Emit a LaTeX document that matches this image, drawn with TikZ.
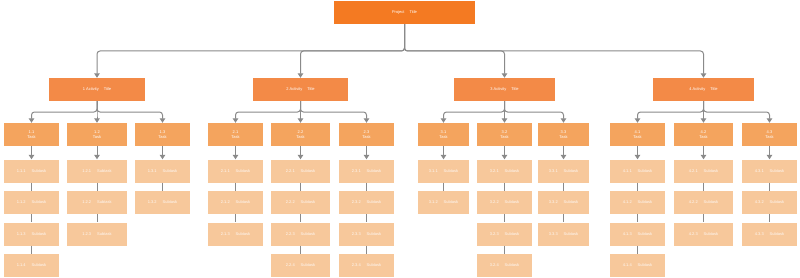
\documentclass[tikz,border=0pt]{standalone}
\usepackage{fontspec}
\setmainfont{Liberation Sans}
\usetikzlibrary{arrows.meta}
\definecolor{topc}{HTML}{F47A22}
\definecolor{actc}{HTML}{F38A47}
\definecolor{taskc}{HTML}{F4A45E}
\definecolor{subc}{HTML}{F7C89B}
\definecolor{linec}{HTML}{8A8A8A}
\begin{document}
\begin{tikzpicture}[x=1pt,y=-1pt,
  basebox/.style={inner sep=0pt, text=white, align=center,
    font=\fontsize{4}{4.6}\selectfont, minimum height=23pt},
  topbox/.style={basebox, fill=topc, minimum width=141pt},
  actbox/.style={basebox, fill=actc},
  taskbox/.style={basebox, fill=taskc},
  subbox/.style={basebox, fill=subc, text=white!90!subc},
  conn/.style={draw=linec, line width=1pt, rounded corners=3pt},
  arr/.style={conn, -{Triangle[width=5.5pt,length=4.5pt]}}]
\useasboundingbox[fill=white] (0,0) rectangle (800,278);
\coordinate (busA) at (0,51);
\coordinate (busT) at (0,112);
\node[topbox] (top) at (404.5,12.5) {Project\hspace{5pt}Title};
\foreach \g/\ax/\aw in {1/97/96, 2/300.5/95, 3/504.5/101, 4/703.5/101} {
  \node[actbox, minimum width=\aw pt] (a\g) at (\ax,89.5) {\g\ Activity\hspace{5pt}Title};
  \draw[arr] (top.south) -- (top.south |- busA) -| (a\g.north);
}
\foreach \g/\t/\x/\w/\n in {1/1/31.5/55/4, 1/2/97/60/3, 1/3/162.5/55/2,
  2/1/235.5/55/3, 2/2/300.5/59/4, 2/3/366.5/55/4,
  3/1/443.5/51/2, 3/2/504.5/55/4, 3/3/563.5/51/3,
  4/1/637.5/55/4, 4/2/703.5/59/3, 4/3/769.5/55/3} {
  \node[taskbox, minimum width=\w pt] (t\g\t) at (\x,134.5) {\g.\t\\Task};
  \draw[arr] (a\g.south) -- (a\g.south |- busT) -| (t\g\t.north);
  \foreach \s in {1,...,\n} {
    \pgfmathsetmacro\sy{171+31.5*(\s-1)}
    \node[subbox, minimum width=\w pt] (s\g\t\s) at (\x,\sy) {\g.\t.\s\hspace{6pt}Subtask};
    \ifnum\s=1
      \draw[arr] (t\g\t.south) -- (s\g\t\s.north);
    \else
      \pgfmathtruncatemacro\p{\s-1}
      \draw[conn] (s\g\t\p.south) -- (s\g\t\s.north);
    \fi
  }
}
\end{tikzpicture}
\end{document}
